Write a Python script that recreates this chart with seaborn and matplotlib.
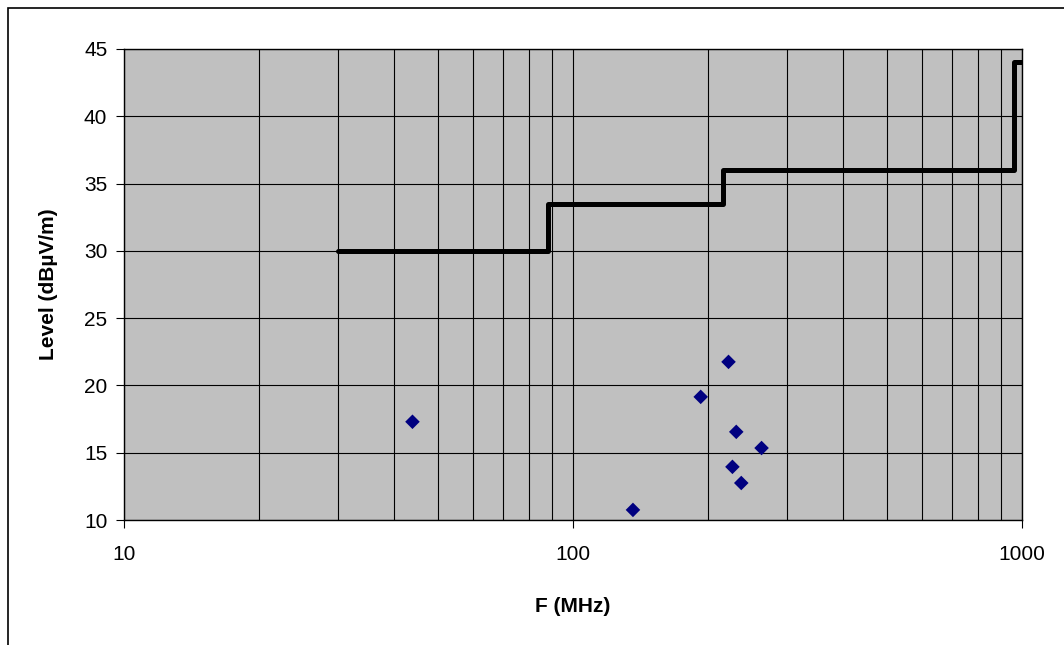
import numpy as np
import pandas as pd
import matplotlib
matplotlib.use("Agg")
import matplotlib.pyplot as plt
import seaborn as sns
from matplotlib.patches import Rectangle
from matplotlib.ticker import LogLocator, NullFormatter, FixedLocator

# measured emissions (MHz, dBuV/m)
freq_mhz = [43.9, 136, 192.5, 222, 226.5, 231, 237, 263]
level_db = [17.3, 10.75, 19.15, 21.75, 13.95, 16.55, 12.75, 15.35]

# limit line: band edges and level in each band
limit_edges = [30, 88, 216, 960, 1000]
limit_levels = [30, 33.5, 36, 44]

x_ticks = [10, 100, 1000]
y_ticks = [10, 15, 20, 25, 30, 35, 40, 45]

sns.set_style("white")
plt.rcParams['font.family'] = ['Liberation Sans', 'DejaVu Sans']
plt.rcParams['text.color'] = 'black'
plt.rcParams['axes.labelcolor'] = 'black'
plt.rcParams['xtick.color'] = 'black'
plt.rcParams['ytick.color'] = 'black'

# turn band edges into step vertices
step_x, step_y = [], []
for i, lvl in enumerate(limit_levels):
    step_x += [limit_edges[i], limit_edges[i + 1]]
    step_y += [lvl, lvl]
limit_df = pd.DataFrame({'F': step_x, 'Level': step_y})
meas_df = pd.DataFrame({'F': freq_mhz, 'Level': level_db})

fig = plt.figure(figsize=(10.64, 6.45), dpi=100)
ax = fig.add_axes([124 / 1064, 1 - 520 / 645, (1022 - 124) / 1064, (520 - 49) / 645])
ax.set_facecolor('#C0C0C0')

sns.lineplot(data=limit_df, x='F', y='Level', sort=False, estimator=None,
             color='black', linewidth=3.6, ax=ax, zorder=3)
sns.scatterplot(data=meas_df, x='F', y='Level', marker='D', s=55,
                color='#000080', edgecolor='none', ax=ax, zorder=4)

ax.set_xscale('log')
ax.set_xlim(10, 1000)
ax.set_ylim(10, 45)
ax.xaxis.set_major_locator(FixedLocator(x_ticks))
ax.set_xticklabels([str(t) for t in x_ticks])
ax.xaxis.set_minor_locator(LogLocator(base=10, subs=np.arange(2, 10)))
ax.xaxis.set_minor_formatter(NullFormatter())
ax.set_yticks(y_ticks)

ax.grid(True, which='both', axis='both', color='black', linewidth=0.8)
ax.set_axisbelow(True)
ax.tick_params(axis='x', which='major', direction='out', length=6, width=0.8,
               labelsize=15, pad=12, bottom=True)
ax.tick_params(axis='x', which='minor', length=0)
ax.tick_params(axis='y', which='major', direction='out', length=6, width=0.8,
               labelsize=15, pad=6, left=True)
for spine in ax.spines.values():
    spine.set_color('black')
    spine.set_linewidth(1.0)

ax.set_xlabel('F (MHz)', fontsize=15, fontweight='bold', labelpad=24)
ax.set_ylabel('Level (dBµV/m)', fontsize=15, fontweight='bold', labelpad=19)

# outer chart frame
fig.patches.append(Rectangle((8 / 1064, -0.1), 1.2, 1.1 - 8 / 645,
                             transform=fig.transFigure, fill=False,
                             edgecolor='black', linewidth=1.2))

fig.savefig('out.png', dpi=100, facecolor='white')
